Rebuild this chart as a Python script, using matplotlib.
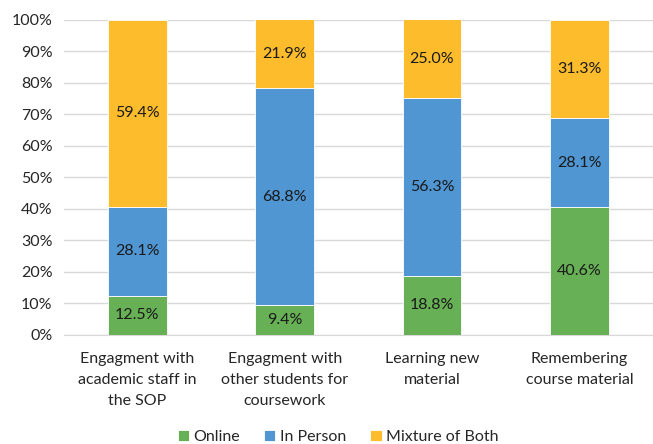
import numpy as np
from matplotlib import pyplot as plt
from matplotlib.ticker import MultipleLocator, PercentFormatter

categories = [
    "Engagment with\nacademic staff in\nthe SOP",
    "Engagment with\nother students for\ncoursework",
    "Learning new\nmaterial",
    "Remembering\ncourse material",
]
online = [12.5, 9.4, 18.8, 40.6]
in_person = [28.1, 68.8, 56.3, 28.1]
mixture = [59.4, 21.9, 25.0, 31.3]

series = [
    ("Online", online, "#67B055"),
    ("In Person", in_person, "#4F96D3"),
    ("Mixture of Both", mixture, "#FDBC2B"),
]

plt.rcParams['font.family'] = ['Lato', 'DejaVu Sans']

fig = plt.figure(figsize=(6.53, 4.44), dpi=100)
ax = fig.add_axes([0.0975, 0.2455, 0.9025, 0.7105])

x = np.arange(len(categories))
bottom = np.zeros(len(categories))
for name, vals, color in series:
    vals = np.array(vals)
    bars = ax.bar(x, vals, 0.4, bottom=bottom, color=color, label=name,
                  edgecolor="white", linewidth=0.6, zorder=3)
    for b, v, b0 in zip(bars, vals, bottom):
        ax.text(b.get_x() + b.get_width() / 2, b0 + v / 2, f"{v:.1f}%",
                ha="center", va="center", fontsize=11.5, color="#1a1a1a", zorder=4)
    bottom += vals

ax.set_xlim(-0.5, len(categories) - 0.5)
ax.set_ylim(0, 100)
ax.yaxis.set_major_locator(MultipleLocator(10))
ax.yaxis.set_major_formatter(PercentFormatter(decimals=0))
ax.grid(axis="y", color="#d9d9d9", linewidth=1, zorder=0)
ax.set_xticks(x)
ax.set_xticklabels(categories, fontsize=11.5, color="#262626", linespacing=1.65)
ax.tick_params(axis="y", labelsize=11.5, labelcolor="#262626", length=0, pad=8)
ax.tick_params(axis="x", length=0, pad=12)
for side in ["top", "right", "left"]:
    ax.spines[side].set_visible(False)
ax.spines["bottom"].set_color("#d9d9d9")

fig.legend(loc="lower center", bbox_to_anchor=(0.518, -0.032), ncol=3, frameon=False,
           fontsize=11.5, handlelength=0.7, handleheight=0.7, handletextpad=0.3,
           columnspacing=1.5, labelcolor="#262626")

fig.savefig("out.png", dpi=100)
